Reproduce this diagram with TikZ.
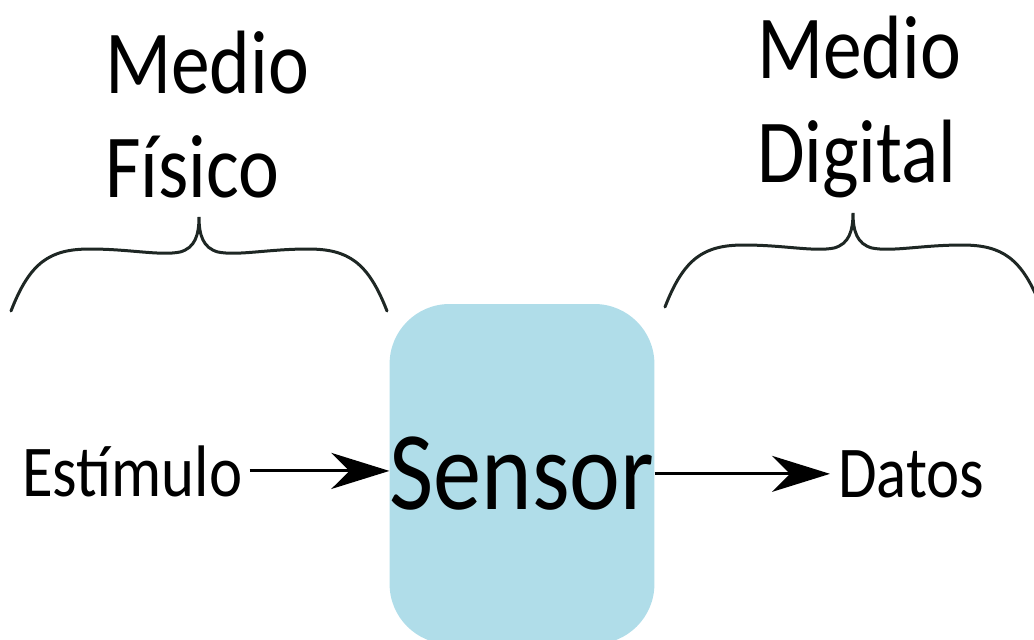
\documentclass[tikz,border=0pt]{standalone}
\usepackage{fontspec}
\setmainfont{Carlito}[FakeStretch=0.86]
\usetikzlibrary{arrows.meta}
\definecolor{sensorblue}{HTML}{B0DDE9}
\definecolor{bracecol}{HTML}{1E2724}
\tikzset{
  title/.style={anchor=base west, inner sep=0pt, font=\fontsize{90}{96}\selectfont},
  label/.style={anchor=base west, inner sep=0pt, font=\fontsize{73}{78}\selectfont},
  block/.style={fill=sensorblue, rounded corners=60pt, minimum width=264pt, minimum height=340pt, inner sep=0pt, font=\fontsize{112}{118}\selectfont},
  flow/.style={line width=3pt, -{Stealth[length=58pt, width=36pt, inset=18pt]}},
  brace/.style={line width=3pt, bracecol, line cap=round}
}
\begin{document}
\begin{tikzpicture}[x=1pt, y=-1pt]
  \useasboundingbox (0,0) rectangle (1034,640);
  \node[title] (fisico1) at (105,93) {Medio};
  \node[title] (fisico2) at (105,197) {Físico};
  \node[title] (digital1) at (757,78) {Medio};
  \node[title] (digital2) at (757,182) {Digital};

  % llaves
  \draw[brace] (11,311) .. controls (30,262) and (50,249) .. (90,249)
    .. controls (130,249) and (160,256) .. (180,252)
    .. controls (195,248) and (199,235) .. (199,217)
    .. controls (199,235) and (203,248) .. (218,252)
    .. controls (238,256) and (268,249) .. (308,249)
    .. controls (348,249) and (368,262) .. (387,311);
  \draw[brace] (665,307) .. controls (684,258) and (704,245) .. (744,245)
    .. controls (784,245) and (814,252) .. (834,248)
    .. controls (849,244) and (853,231) .. (853,213)
    .. controls (853,231) and (857,244) .. (872,248)
    .. controls (892,252) and (922,245) .. (962,245)
    .. controls (1002,245) and (1022,258) .. (1041,307);

  \node[block] (sensor) at (522,474) {Sensor};
  \node[label] (estimulo) at (22,496) {Estímulo};
  \node[label] (datos) at (838,497) {Datos};
  \draw[flow] (estimulo.east) ++(7,0) -- (estimulo.east -| sensor.west);
  \draw[flow] (sensor.east |- datos.west) -- ([xshift=-8pt]datos.west);
\end{tikzpicture}
\end{document}
